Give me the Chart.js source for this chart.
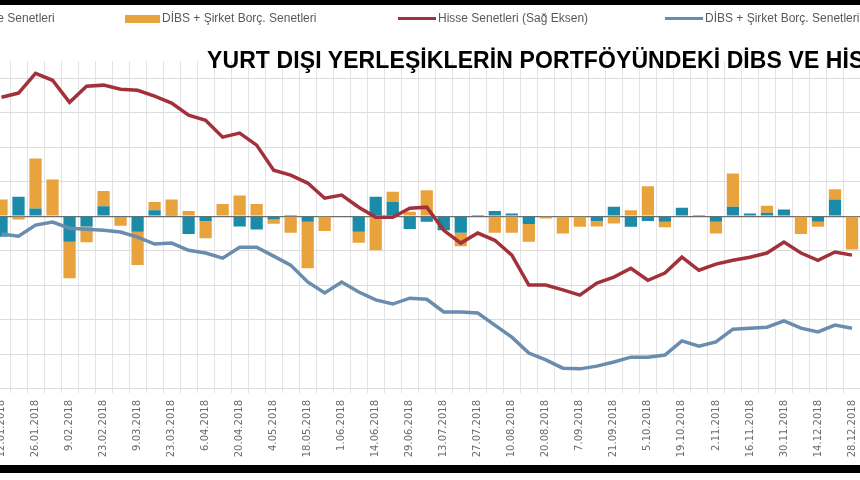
<!DOCTYPE html>
<html><head><meta charset="utf-8">
<script src="https://cdn.jsdelivr.net/npm/chart.js@4/dist/chart.umd.min.js"></script>
<style>
html,body{margin:0;padding:0;background:#fff;width:860px;height:480px;overflow:hidden;position:relative;font-family:'Liberation Sans Narrow','Liberation Sans',sans-serif}
#wrap{position:absolute;left:-7px;top:0;width:878px;height:480px}
.bandT{position:absolute;left:0;top:0;width:860px;height:5px;background:#000}
.bandB{position:absolute;left:0;top:465px;width:860px;height:8px;background:#000}
#title{position:absolute;left:207px;top:47px;white-space:nowrap;font-family:'Liberation Sans Narrow','Liberation Sans',sans-serif;font-weight:bold;font-size:23px;color:#000;letter-spacing:0.1px}
.lg{position:absolute;top:11px;font-size:12px;color:#595959;white-space:nowrap}
.sw{display:inline-block;vertical-align:middle;margin-right:2px}
</style></head><body>
<div id="wrap"><canvas id="c" width="878" height="480"></canvas></div>
<div class="bandT"></div><div class="bandB"></div>
<div class="lg" style="left:-48px"><span class="sw" style="width:20px;height:8px;background:#1A8BA8"></span>Hisse Senetleri</div>
<div class="lg" style="left:125px"><span class="sw" style="width:35px;height:8px;background:#E8A33D"></span>DİBS + Şirket Borç. Senetleri</div>
<div class="lg" style="left:398px"><span class="sw" style="width:38px;height:3px;background:#A3313A"></span>Hisse Senetleri (Sağ Eksen)</div>
<div class="lg" style="left:665px"><span class="sw" style="width:38px;height:3px;background:#6A8CAF"></span>DİBS + Şirket Borç. Senetleri (Sol Eksen)</div>
<div id="title">YURT DIŞI YERLEŞİKLERİN PORTFÖYÜNDEKİ DİBS VE HİSSE SENEDİ STOKU</div>
<script>
const categories=["12.01.2018","19.01.2018","26.01.2018","2.02.2018","9.02.2018","16.02.2018","23.02.2018","2.03.2018","9.03.2018","16.03.2018","23.03.2018","30.03.2018","6.04.2018","13.04.2018","20.04.2018","27.04.2018","4.05.2018","11.05.2018","18.05.2018","25.05.2018","1.06.2018","8.06.2018","14.06.2018","22.06.2018","29.06.2018","6.07.2018","13.07.2018","20.07.2018","27.07.2018","3.08.2018","10.08.2018","17.08.2018","20.08.2018","31.08.2018","7.09.2018","14.09.2018","21.09.2018","28.09.2018","5.10.2018","12.10.2018","19.10.2018","26.10.2018","2.11.2018","9.11.2018","16.11.2018","23.11.2018","30.11.2018","7.12.2018","14.12.2018","21.12.2018","28.12.2018"];
const hisseBar=[-0.6,0.56,0.22,0,-0.74,-0.3,0.29,-0.03,-0.45,0.17,0.03,-0.52,-0.14,0,-0.3,-0.39,-0.1,0.03,-0.16,0,0.02,-0.45,0.56,0.42,-0.37,-0.16,-0.41,-0.48,0.03,0.15,0.08,-0.23,0,-0.02,0.02,-0.14,0.27,-0.31,-0.14,-0.16,0.24,0.03,-0.16,0.27,0.08,0.1,0.19,0,-0.16,0.48,0];
const dibsBar=[0.48,-0.1,1.45,1.06,-1.06,-0.46,0.44,-0.25,-0.97,0.24,0.45,0.15,-0.5,0.35,0.6,0.35,-0.12,-0.48,-1.35,-0.43,0,-0.32,-0.99,0.29,0.13,0.75,0,-0.39,0,-0.48,-0.48,-0.51,-0.07,-0.48,-0.31,-0.16,-0.21,0.17,0.87,-0.16,0,0,-0.34,0.97,0,0.2,0,-0.52,-0.15,0.3,-0.97];
const hisseLine=[3.45,3.57,4.14,3.94,3.30,3.77,3.80,3.68,3.65,3.48,3.28,2.93,2.78,2.29,2.41,2.06,1.33,1.19,0.96,0.52,0.61,0.26,-0.03,-0.03,0.23,0.26,-0.41,-0.78,-0.49,-0.70,-1.13,-2.00,-2.00,-2.14,-2.29,-1.94,-1.77,-1.51,-1.86,-1.65,-1.19,-1.57,-1.39,-1.28,-1.19,-1.07,-0.75,-1.07,-1.28,-1.04,-1.13];
const dibsLine=[-0.52,-0.58,-0.26,-0.17,-0.35,-0.38,-0.41,-0.46,-0.61,-0.81,-0.78,-0.99,-1.07,-1.22,-0.90,-0.90,-1.16,-1.42,-1.91,-2.23,-1.91,-2.20,-2.43,-2.55,-2.38,-2.41,-2.78,-2.78,-2.81,-3.16,-3.51,-3.97,-4.17,-4.41,-4.43,-4.35,-4.23,-4.09,-4.09,-4.03,-3.62,-3.77,-3.65,-3.28,-3.25,-3.22,-3.04,-3.25,-3.36,-3.16,-3.25];
const yMin=-5.13, yMax=4.5;
new Chart(document.getElementById('c'),{
 data:{labels:categories,datasets:[
  {type:'line',label:'Hisse Senetleri (Sağ Eksen)',data:hisseLine,yAxisID:'y1',borderColor:'#A3313A',borderWidth:3.5,pointRadius:0,tension:0,order:0},
  {type:'line',label:'DİBS + Şirket Borç. Senetleri (Sol Eksen)',data:dibsLine,yAxisID:'y',borderColor:'#6A8CAF',borderWidth:3.5,pointRadius:0,tension:0,order:1},
  {type:'bar',label:'Hisse Senetleri',data:hisseBar,backgroundColor:'#1A8BA8',stack:'s',order:3,barPercentage:0.72,categoryPercentage:1},
  {type:'bar',label:'DİBS + Şirket Borç. Senetleri',data:dibsBar,backgroundColor:'#E8A33D',stack:'s',order:3,barPercentage:0.72,categoryPercentage:1}
 ]},
 options:{responsive:false,animation:false,
  layout:{padding:{top:61,bottom:17,left:0,right:0}},
  plugins:{legend:{display:false},tooltip:{enabled:false}},
  scales:{
   x:{stacked:true,offset:true,grid:{offset:true,color:'#e3e3e3',drawTicks:false},border:{display:false},
      ticks:{autoSkip:false,maxRotation:90,minRotation:90,padding:7,color:'#6b6b6b',font:{family:'DejaVu Sans',size:10},
        callback:function(v,i){return i%2===0?categories[i]:'';}},
      afterFit:s=>{s.height=70;}},
   y:{stacked:true,min:yMin,max:yMax,afterBuildTicks:s=>{const t=[];for(let v=-5;v<=4;v++)t.push({value:v});s.ticks=t;},
      grid:{color:c=>c.tick&&c.tick.value===0?'#6e6e6e':'#dcdcdc',lineWidth:c=>c.tick&&c.tick.value===0?1.2:1,drawTicks:false},
      border:{display:false},ticks:{display:false},afterFit:s=>{s.width=0;}},
   y1:{min:yMin,max:yMax,display:false}
  }}
});
</script></body></html>
